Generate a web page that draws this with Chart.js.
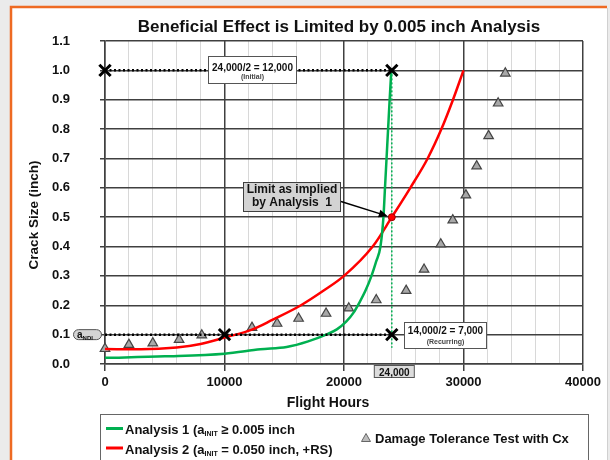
<!DOCTYPE html>
<html>
<head>
<meta charset="utf-8">
<script src="https://cdn.jsdelivr.net/npm/chart.js@4.4.1/dist/chart.umd.min.js"></script>
<style>
  html, body { margin: 0; padding: 0; background: #ebebeb; }
</style>
</head>
<body>
<canvas id="grafico" width="610" height="460"></canvas>
<script>
// Analysis 1 (green) - flight hours / crack size
const hours1 = [0, 5000, 10000, 13000, 15200, 17000, 18500, 19400, 20200, 20800, 21300, 21800, 22300, 22700, 23050, 23300, 23430, 23560, 23690, 23820, 23960];
const crack1 = [0.021, 0.026, 0.035, 0.05, 0.058, 0.077, 0.1, 0.118, 0.145, 0.175, 0.21, 0.25, 0.3, 0.35, 0.4, 0.5, 0.6, 0.7, 0.8, 0.9, 1.0];

// Analysis 2 (red)
const hours2 = [0, 3000, 6000, 8000, 10000, 12300, 14000, 16400, 18300, 20000, 22400, 24000, 25550, 27000, 28150, 29120, 30000];
const crack2 = [0.051, 0.05, 0.056, 0.068, 0.09, 0.117, 0.15, 0.2, 0.25, 0.3, 0.4, 0.5, 0.6, 0.7, 0.8, 0.9, 1.0];

// Damage Tolerance Test with Cx (triangles)
const testHours = [0, 2000, 4000, 6200, 8100, 12300, 14400, 16200, 18500, 20400, 22700, 25200, 26700, 28100, 29100, 30200, 31100, 32100, 32900, 33500];
const testCrack = [0.052, 0.066, 0.071, 0.083, 0.098, 0.124, 0.138, 0.155, 0.172, 0.19, 0.218, 0.25, 0.322, 0.408, 0.49, 0.575, 0.674, 0.777, 0.888, 0.99];

// inspection lines (dotted) and the limit point
const initialHours = [0, 24000];
const initialCrack = [1.0, 1.0];
const recurringHours = [0, 10000, 24000];
const recurringCrack = [0.1, 0.1, 0.1];
const limitHours = [24000, 24000];
const limitCrack = [1.0, 0.055];
const limitPointHours = [24000];
const limitPointCrack = [0.5];

// axes
const xMajorTicks = [0, 10000, 20000, 30000, 40000];
const xMin = 0, xMax = 40000, xStep = 2000;
const yMin = 0, yMax = 1.1, yStep = 0.1;

const FONT = '"Liberation Sans", Arial, sans-serif';
const GREEN = '#00b050';
const RED = '#ff0000';

function pts(xs, ys) {
  return xs.map((x, i) => ({x: x, y: ys[i]}));
}

// text with subscripts, parts = [[text, isSub], ...]
function writeParts(ctx, parts, x, y, size) {
  ctx.textAlign = 'left';
  ctx.textBaseline = 'alphabetic';
  parts.forEach(p => {
    ctx.font = 'bold ' + (p[1] ? Math.round(size * 0.55) : size) + 'px ' + FONT;
    ctx.fillText(p[0], x, p[1] ? y + 2 : y);
    x += ctx.measureText(p[0]).width;
  });
}

function box(ctx, x, y, w, h, fill, stroke) {
  ctx.fillStyle = fill;
  ctx.fillRect(x, y, w, h);
  ctx.strokeStyle = stroke;
  ctx.lineWidth = 1;
  ctx.strokeRect(x, y, w, h);
}

function arrow(ctx, x1, y1, x2, y2) {
  const a = Math.atan2(y2 - y1, x2 - x1);
  ctx.strokeStyle = '#000';
  ctx.fillStyle = '#000';
  ctx.lineWidth = 1.5;
  ctx.beginPath();
  ctx.moveTo(x1, y1);
  ctx.lineTo(x2 - 6 * Math.cos(a), y2 - 6 * Math.sin(a));
  ctx.stroke();
  ctx.beginPath();
  ctx.moveTo(x2, y2);
  ctx.lineTo(x2 - 9 * Math.cos(a) + 4 * Math.sin(a), y2 - 9 * Math.sin(a) - 4 * Math.cos(a));
  ctx.lineTo(x2 - 9 * Math.cos(a) - 4 * Math.sin(a), y2 - 9 * Math.sin(a) + 4 * Math.cos(a));
  ctx.closePath();
  ctx.fill();
}

const decor = {
  id: 'decor',
  beforeDraw(chart) {
    const ctx = chart.ctx;
    ctx.save();
    ctx.fillStyle = '#ebebeb';
    ctx.fillRect(0, 0, chart.width, chart.height);
    ctx.fillStyle = '#ffffff';
    ctx.fillRect(12, 8, 595, 452);
    ctx.strokeStyle = '#ee6a22';
    ctx.lineWidth = 2.5;
    ctx.beginPath();
    ctx.moveTo(11, 460);
    ctx.lineTo(11, 7);
    ctx.lineTo(607, 7);
    ctx.stroke();
    ctx.strokeStyle = '#d0d0d0';
    ctx.lineWidth = 1;
    ctx.beginPath();
    ctx.moveTo(607.5, 8);
    ctx.lineTo(607.5, 460);
    ctx.stroke();
    ctx.restore();
  },
  afterDraw(chart) {
    const ctx = chart.ctx;
    const xs = chart.scales.x, ys = chart.scales.y;
    ctx.save();
    ctx.fillStyle = '#111';

    // titles
    ctx.textAlign = 'center';
    ctx.textBaseline = 'alphabetic';
    ctx.font = 'bold 17px ' + FONT;
    ctx.fillText('Beneficial Effect is Limited by 0.005 inch Analysis', 339, 32);
    ctx.font = 'bold 14px ' + FONT;
    ctx.fillText('Flight Hours', 328, 407);
    ctx.save();
    ctx.translate(38, 215);
    ctx.rotate(-Math.PI / 2);
    ctx.font = 'bold 13.5px ' + FONT;
    ctx.fillText('Crack Size (inch)', 0, 0);
    ctx.restore();

    // 24,000/2 = 12,000 (Initial)
    box(ctx, 208.5, 56.5, 88, 27, '#fff', '#555');
    ctx.fillStyle = '#111';
    ctx.textAlign = 'center';
    ctx.font = 'bold 10px ' + FONT;
    ctx.fillText('24,000/2 = 12,000', 252.5, 70.5);
    ctx.fillStyle = '#444';
    ctx.font = 'bold 7px ' + FONT;
    ctx.fillText('(Initial)', 252.5, 79);

    // 14,000/2 = 7,000 (Recurring)
    box(ctx, 404.5, 322.5, 82, 26, '#fff', '#555');
    ctx.fillStyle = '#111';
    ctx.font = 'bold 10px ' + FONT;
    ctx.fillText('14,000/2 = 7,000', 445.5, 333.5);
    ctx.fillStyle = '#444';
    ctx.font = 'bold 7px ' + FONT;
    ctx.fillText('(Recurring)', 445.5, 343.5);

    // a_NDI pill
    const py = ys.getPixelForValue(0.1);
    ctx.fillStyle = '#d4d4d4';
    ctx.strokeStyle = '#555';
    ctx.lineWidth = 1;
    ctx.beginPath();
    ctx.roundRect(73.5, py - 5, 28, 10, 5);
    ctx.fill();
    ctx.stroke();
    ctx.fillStyle = '#111';
    writeParts(ctx, [['a', 0], ['NDI', 1]], 77, py + 3, 10);

    // Limit as implied by Analysis 1
    box(ctx, 243.5, 182.5, 97, 29, '#d3d3d3', '#404040');
    ctx.fillStyle = '#111';
    ctx.textAlign = 'center';
    ctx.font = 'bold 12px ' + FONT;
    ctx.fillText('Limit as implied', 292, 193);
    ctx.fillText('by Analysis  1', 292, 206);
    arrow(ctx, 341, 201.5, xs.getPixelForValue(24000) - 4, ys.getPixelForValue(0.5) - 1);

    // 24,000 tag under the axis
    const px = xs.getPixelForValue(24000);
    box(ctx, px - 17.5, 365.5, 40, 12, '#dcdcdc', '#555');
    ctx.fillStyle = '#111';
    ctx.font = 'bold 10px ' + FONT;
    ctx.fillText('24,000', px + 2.5, 375.5);

    // legend
    box(ctx, 100.5, 414.5, 488, 60, '#fff', '#666');
    ctx.lineWidth = 3;
    ctx.strokeStyle = GREEN;
    ctx.beginPath(); ctx.moveTo(106, 428.5); ctx.lineTo(123, 428.5); ctx.stroke();
    ctx.strokeStyle = RED;
    ctx.beginPath(); ctx.moveTo(106, 448); ctx.lineTo(123, 448); ctx.stroke();
    ctx.fillStyle = '#111';
    writeParts(ctx, [['Analysis 1 (a', 0], ['INIT', 1], [' \u2265 0.005 inch', 0]], 125, 433.5, 13);
    writeParts(ctx, [['Analysis 2 (a', 0], ['INIT', 1], [' = 0.050 inch, +RS)', 0]], 125, 453.5, 13);
    ctx.fillStyle = '#bdbdbd';
    ctx.strokeStyle = '#666';
    ctx.lineWidth = 1;
    ctx.beginPath();
    ctx.moveTo(366, 433.5); ctx.lineTo(370.5, 441.5); ctx.lineTo(361.5, 441.5);
    ctx.closePath();
    ctx.fill(); ctx.stroke();
    ctx.fillStyle = '#111';
    writeParts(ctx, [['Damage Tolerance Test with Cx', 0]], 375, 443, 13);

    ctx.restore();
  }
};

var ctx = document.getElementById('grafico').getContext('2d');
var chart = new Chart(ctx, {
  type: 'line',
  data: {
    datasets: [
      {
        label: 'Limit',
        data: pts(limitPointHours, limitPointCrack),
        showLine: false,
        pointRadius: 3.5,
        pointBackgroundColor: RED,
        pointBorderColor: '#a00000',
        pointBorderWidth: 1
      },
      {
        label: 'Initial',
        data: pts(initialHours, initialCrack),
        borderColor: '#000',
        borderWidth: 2.5,
        borderDash: [2, 2.5],
        pointStyle: 'crossRot',
        pointRadius: 8,
        pointBorderWidth: 3,
        pointBorderColor: '#000',
        clip: false
      },
      {
        label: 'Recurring',
        data: pts(recurringHours, recurringCrack),
        borderColor: '#000',
        borderWidth: 2.5,
        borderDash: [2, 2.5],
        pointStyle: 'crossRot',
        pointRadius: [0, 8, 8],
        pointBorderWidth: 3,
        pointBorderColor: '#000',
        clip: false
      },
      {
        label: 'Analysis 1',
        data: pts(hours1, crack1),
        borderColor: GREEN,
        borderWidth: 2.5,
        pointRadius: 0,
        cubicInterpolationMode: 'monotone'
      },
      {
        label: 'Analysis 2',
        data: pts(hours2, crack2),
        borderColor: RED,
        borderWidth: 2.5,
        pointRadius: 0,
        cubicInterpolationMode: 'monotone'
      },
      {
        label: 'Damage Tolerance Test with Cx',
        data: pts(testHours, testCrack),
        showLine: false,
        pointStyle: 'triangle',
        pointRadius: 5.5,
        pointBackgroundColor: '#a8a8a8',
        pointBorderColor: '#444',
        pointBorderWidth: 1.2,
        clip: false
      },
      {
        label: '24000',
        data: pts(limitHours, limitCrack),
        borderColor: GREEN,
        borderWidth: 1.5,
        borderDash: [2, 2],
        pointRadius: 0
      }
    ]
  },
  options: {
    responsive: false,
    animation: false,
    layout: { padding: { top: 41, right: 27, left: 0, bottom: 0 } },
    plugins: {
      legend: { display: false },
      title: { display: false },
      tooltip: { enabled: false }
    },
    scales: {
      x: {
        type: 'linear',
        min: xMin,
        max: xMax,
        afterFit: s => { s.height = 96; },
        ticks: {
          stepSize: xStep,
          autoSkip: false,
          maxRotation: 0,
          padding: 4,
          color: '#111',
          font: { family: FONT, size: 13, weight: 'bold' },
          callback: v => xMajorTicks.includes(v) ? String(v) : ''
        },
        grid: {
          color: c => xMajorTicks.includes(c.tick && c.tick.value) ? '#404040' : '#d8d8d8',
          lineWidth: c => xMajorTicks.includes(c.tick && c.tick.value) ? 1.5 : 1,
          tickColor: c => xMajorTicks.includes(c.tick && c.tick.value) ? '#404040' : 'rgba(0,0,0,0)',
          tickLength: 7
        },
        border: { color: '#404040', width: 1.5 }
      },
      y: {
        min: yMin,
        max: yMax,
        afterFit: s => { s.width = 105; },
        ticks: {
          stepSize: yStep,
          padding: 30,
          color: '#111',
          font: { family: FONT, size: 13, weight: 'bold' },
          callback: v => v.toFixed(1)
        },
        grid: {
          color: '#404040',
          lineWidth: 1.5,
          tickLength: 5
        },
        border: { color: '#404040', width: 1.5 }
      }
    }
  },
  plugins: [decor]
});
</script>
</body>
</html>
